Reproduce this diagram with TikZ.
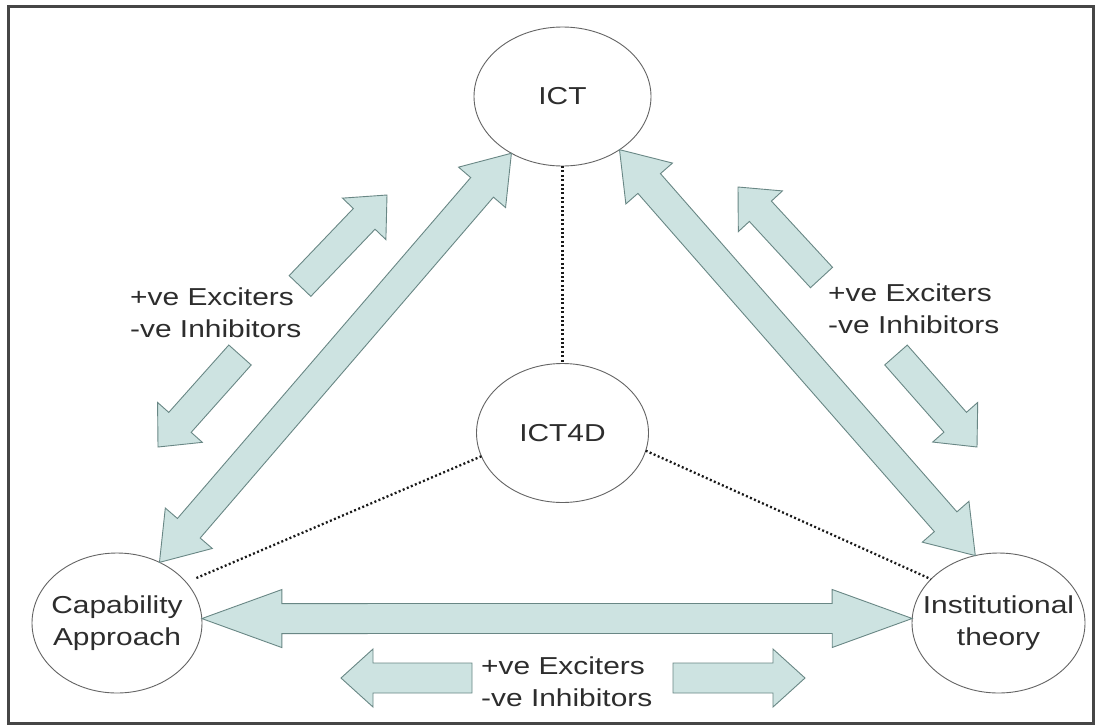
\documentclass[tikz,border=0pt]{standalone}
\usepackage{fontspec}
\newfontfamily\labfont[FakeStretch=1.22]{Liberation Sans}
\usetikzlibrary{shapes.geometric,calc}
\definecolor{arrowfill}{RGB}{205,227,225}
\definecolor{arrowline}{RGB}{105,135,133}
\definecolor{ringline}{RGB}{100,100,100}
\definecolor{textgray}{RGB}{45,45,45}
\definecolor{framegray}{RGB}{70,70,70}
\tikzset{
  concept/.style={ellipse, draw=ringline, line width=0.9pt, fill=white,
    minimum width=174pt, minimum height=139pt, inner sep=0pt, outer sep=0pt},
  labeltext/.style={font=\labfont\fontsize{24.5}{32}\selectfont, text=textgray, inner sep=0pt},
  blockarrow/.style={draw=arrowline, fill=arrowfill, line width=0.9pt, line join=miter},
  dotline/.style={line width=2.3pt, dash pattern=on 2pt off 2.4pt, draw=black!90},
}
% double block arrow: #1 end A, #2 end B, #3 shaft half width, #4 head half width, #5 head length
\newcommand{\twohead}[5]{%
  \draw[blockarrow] (#1)
    -- ($(#1)!#5!(#2)!#4!90:(#2)$)
    -- ($(#1)!#5!(#2)!#3!90:(#2)$)
    -- ($(#2)!#5!(#1)!#3!-90:(#1)$)
    -- ($(#2)!#5!(#1)!#4!-90:(#1)$)
    -- (#2)
    -- ($(#2)!#5!(#1)!#4!90:(#1)$)
    -- ($(#2)!#5!(#1)!#3!90:(#1)$)
    -- ($(#1)!#5!(#2)!#3!-90:(#2)$)
    -- ($(#1)!#5!(#2)!#4!-90:(#2)$)
    -- cycle;}
% single block arrow: #1 tail, #2 tip
\newcommand{\onehead}[5]{%
  \draw[blockarrow] ($(#1)!#3!90:(#2)$)
    -- ($(#2)!#5!(#1)!#3!-90:(#1)$)
    -- ($(#2)!#5!(#1)!#4!-90:(#1)$)
    -- (#2)
    -- ($(#2)!#5!(#1)!#4!90:(#1)$)
    -- ($(#2)!#5!(#1)!#3!90:(#1)$)
    -- ($(#1)!#3!-90:(#2)$)
    -- cycle;}
\begin{document}
\begin{tikzpicture}[x=1pt,y=-1pt]
\useasboundingbox (0,0) rectangle (1102,726);
\fill[white] (0,0) rectangle (1102,726);
\draw[framegray, line width=3pt] (8.5,6) rectangle (1093,723.5);

% concept nodes
\node[concept, minimum width=177pt, label={[labeltext]center:ICT}] (ict) at (562.5,96.5) {};
\node[concept, minimum width=172pt, label={[labeltext]center:ICT4D}] (ict4d) at (562.5,433) {};
\node[concept, minimum width=170pt, minimum height=140pt,
  label={[labeltext, align=center]center:{Capability\\Approach}}] (cap) at (117,623) {};
\node[concept, minimum width=173pt, minimum height=140pt,
  label={[labeltext, align=center]center:{Institutional\\theory}}] (inst) at (998.5,623) {};

% dotted links
\draw[dotline] (ict.south) -- (ict4d.north);
\draw[dotline] (ict4d.196) -- ([xshift=8pt,yshift=4pt]cap.30);
\draw[dotline] (ict4d.348) -- (inst.147);

% big double arrows
\twohead{cap.55}{ict.228}{15pt}{31pt}{45pt}
\twohead{ict.317}{inst.109}{15pt}{31pt}{45pt}
\twohead{cap.3}{inst.177}{15pt}{29pt}{80pt}

% small arrows
\coordinate (luT) at (300,286);   \coordinate (luH) at (387,195);
\coordinate (ldT) at (240,355);   \coordinate (ldH) at (158,447);
\coordinate (ruT) at (821.5,277.5); \coordinate (ruH) at (738,187);
\coordinate (rdT) at (896,355);   \coordinate (rdH) at (977,447);
\coordinate (blT) at (472,678);   \coordinate (blH) at (341,678);
\coordinate (brT) at (673,678);   \coordinate (brH) at (805,678);
\onehead{luT}{luH}{15pt}{30pt}{33pt}
\onehead{ldT}{ldH}{15pt}{30pt}{33pt}
\onehead{ruT}{ruH}{15pt}{30pt}{33pt}
\onehead{rdT}{rdH}{15pt}{30pt}{33pt}
\onehead{blT}{blH}{15pt}{29pt}{32pt}
\onehead{brT}{brH}{15pt}{29pt}{32pt}

% labels
\node[labeltext, align=left, anchor=west] (labl) at (130,313) {+ve Exciters\\-ve Inhibitors};
\node[labeltext, align=left, anchor=west] (labr) at (828,309) {+ve Exciters\\-ve Inhibitors};
\node[labeltext, align=left, anchor=west] (labb) at (481,682) {+ve Exciters\\-ve Inhibitors};
\end{tikzpicture}
\end{document}
